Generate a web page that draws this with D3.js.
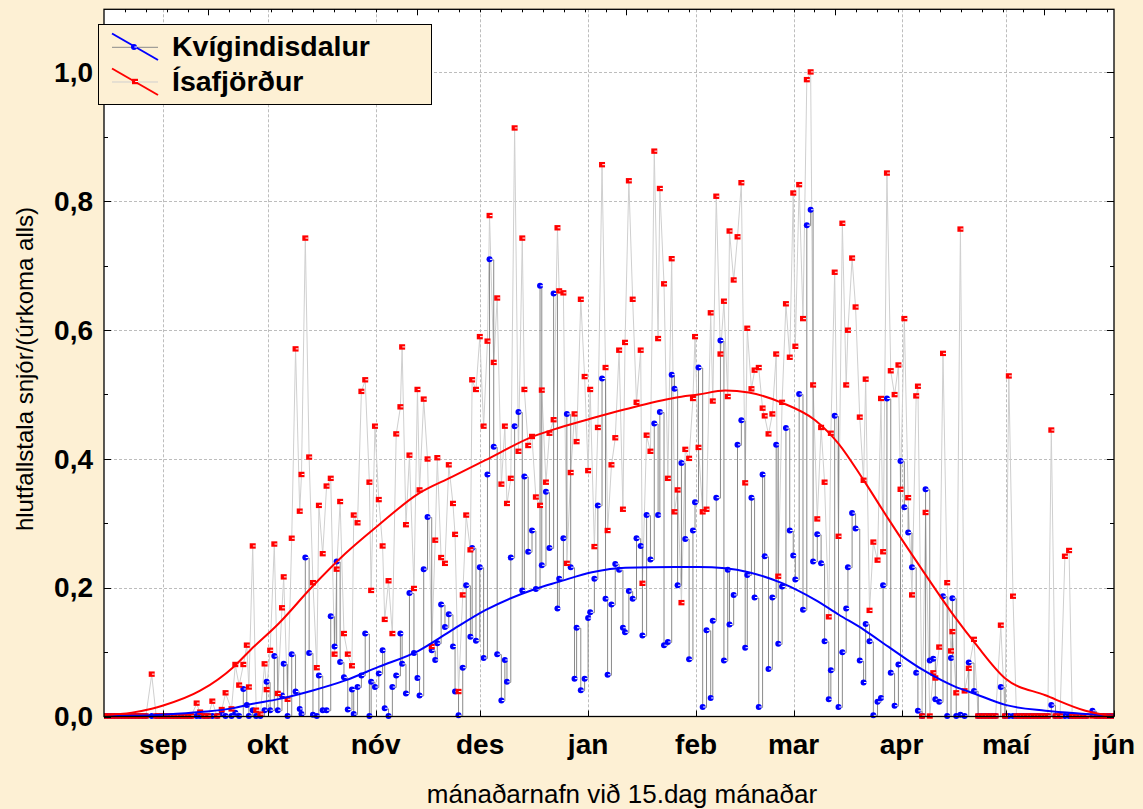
<!DOCTYPE html>
<html>
<head>
<meta charset="utf-8">
<script src="https://cdn.jsdelivr.net/npm/d3@7"></script>
<style>
  html, body { margin: 0; padding: 0; background: #FDF0D4; }
  svg { display: block; }
  text { font-family: "Liberation Sans", Arial, sans-serif; }
</style>
</head>
<body>
<svg id="chart" width="1143" height="809"></svg>
<script>
// ---------------- DATA ----------------
// day = days after 1 September
const monthLabels = ["sep", "okt", "nóv", "des", "jan", "feb", "mar", "apr", "maí", "jún"];
const monthDays   = [14, 44, 75, 105, 136, 167, 195, 226, 256, 287];
const yTickValues = [0, 0.2, 0.4, 0.6, 0.8, 1.0];
const yTickLabels = ["0,0", "0,2", "0,4", "0,6", "0,8", "1,0"];
const seriesNames = ["Kvígindisdalur", "Ísafjörður"];

const days = [
  -3,-2,-1,0,1,2,3,4,5,6,7,8,9,10.7,12,13,14,15,16,17,18,19,20,21,22,
  23.6,24.6,25.8,26.9,28.1,29.5,30.8,31.9,33.6,34.7,35.8,37.0,38.0,38.6,
  39.7,40.7,41.9,43.1,43.7,44.7,45.9,46.9,48.1,48.6,49.7,50.9,52.0,53.2,53.7,54.8,55.9,57.0,58.1,58.7,
  59.8,60.9,62.1,63.2,63.8,64.8,65.9,67.0,68.2,68.7,69.8,70.9,72.0,73.2,73.7,74.8,75.9,77.0,77.6,78.7,79.8,
  80.9,82.1,82.6,83.7,84.7,86.0,87.0,87.6,88.8,89.9,91.1,92.1,92.7,93.8,94.9,96.0,97.2,97.8,98.8,100.0,
  101.0,102.2,102.7,103.8,104.9,106.0,107.1,107.7,108.9,109.9,111.1,112.1,112.7,113.8,114.9,116.0,117.1,117.7,118.8,119.9,121.0,
  122.2,122.7,123.9,124.9,126.1,127.2,127.7,128.9,129.9,131.0,132.1,132.7,133.9,135.0,136.0,136.6,137.8,138.8,140.0,141.0,
  141.6,142.7,143.8,144.9,146.0,146.6,147.7,148.8,149.9,151.1,151.6,152.8,153.9,155.0,156.1,156.6,157.8,158.9,160.0,160.8,
  161.7,162.8,163.9,165.0,166.1,166.7,167.7,168.9,170.0,171.2,171.8,172.8,174.0,175.0,176.1,176.6,177.8,178.9,180.0,181.1,
  181.7,182.9,183.8,185.0,186.1,186.7,187.8,188.9,190.0,190.6,191.7,192.8,193.9,194.9,195.5,196.6,197.7,198.8,199.9,200.6,
  201.8,202.9,203.9,205.1,205.7,206.8,207.9,209.0,210.1,210.6,211.8,212.8,214.0,215.1,215.7,216.8,217.9,219.1,220.1,220.7,
  221.8,222.9,224.0,225.1,225.7,226.8,227.9,229.0,230.2,230.7,231.9,232.9,234.1,235.1,235.7,236.8,237.9,239.1,240.2,240.6,
  241.7,242.9,244.1,245.3,246.8,248,249,250,251,252,253,254.5,255.7,256.8,258.0,
  259,260,261,262,263,264,265,266,267,268,269.0,270.2,271.5,272.9,274.1,275,276,277,278,279,280.8,282,283,284,285,286,287
];

const kvigindisdalur = [
  0,0,0,0,0,0,0,0,0,0,0,0,0,0,0,0,0,0,0,0,0,0,0,0,0,
  0,0,0,0,0,0,0.003,0,0,0.005,0,0.042,0.017,0,
  0.009,0,0,0.009,0.053,0.009,0.093,0.009,0.032,0.081,0,0.096,0.038,0.011,0.003,0.246,0.098,0.002,0,0.063,
  0.009,0.009,0.155,0.108,0.240,0.084,0.060,0.010,0.041,0.003,0.045,0.063,0.128,0,0.053,0.045,0.066,0.102,0.012,0,0.045,
  0.063,0.128,0.081,0.035,0.191,0.098,0.059,0.032,0.228,0.309,0.102,0.087,0.113,0.173,0.138,0.158,0.108,0.038,0.001,0.075,
  0.203,0.123,0.261,0.117,0.231,0.090,0.375,0.709,0.418,0.096,0.024,0.087,0.053,0.246,0.450,0.472,0.195,0.372,0.255,0.288,0.197,
  0.668,0.234,0.348,0.261,0.656,0.167,0.213,0.276,0.469,0.231,0.058,0.137,0.040,0.058,0.152,0.161,0.213,0.327,0.524,0.182,
  0.064,0.173,0.236,0.227,0.137,0.130,0.194,0.182,0.276,0.264,0.125,0.312,0.243,0.454,0.312,0.472,0.110,0.115,0.530,0.508,
  0.203,0.393,0.275,0.088,0.288,0.332,0.541,0.014,0.133,0.028,0.148,0.339,0.583,0.086,0.227,0.142,0.188,0.421,0.459,0.106,
  0.219,0.339,0.184,0.014,0.375,0.248,0.073,0.184,0.421,0.112,0.201,0.447,0.288,0.249,0.212,0.500,0.165,0.762,0.786,0.240,
  0.282,0.237,0.116,0.026,0.071,0.466,0.014,0.099,0.167,0.231,0.315,0.291,0.086,0.052,0.143,0.116,0.001,0.022,0.028,0.203,
  0.493,0.067,0.016,0.080,0.396,0.324,0.285,0.231,0.067,0.008,0,0.352,0.086,0.089,0.026,0.022,0.186,0,0.090,0.183,
  0,0.002,0,0.083,0.039,0,0,0,0,0,0,0.045,0,0,0,
  0,0,0,0,0,0,0,0,0,0,0.017,0,0,0,0,0,0,0,0,0,0.008,0,0,0,0,0,0
];

const isafjordur = [
  0,0,0,0,0,0,0,0,0,0,0,0,0,0.065,0,0,0,0,0,0,0,0,0,0,0,
  0.020,0.006,0,0,0.023,0,0.010,0.036,0.011,0.080,0.048,0.080,0.110,0.045,
  0.264,0.009,0.003,0.081,0.041,0.102,0.267,0.035,0.168,0.216,0.026,0.276,0.570,0.318,0.375,0.742,0.402,0.207,0.075,0.327,
  0.252,0.357,0.369,0.096,0.228,0.333,0.128,0.096,0.078,0.312,0.300,0.504,0.522,0.363,0.195,0.450,0.336,0.264,0.150,0.210,0.128,
  0.438,0.480,0.573,0.297,0.405,0.198,0.507,0.351,0.492,0.399,0.108,0.273,0.401,0.246,0.237,0.390,0.330,0.282,0.038,0.188,
  0.312,0.258,0.522,0.507,0.589,0.450,0.582,0.777,0.549,0.649,0.360,0.450,0.330,0.369,0.913,0.411,0.742,0.507,0.420,0.434,0.340,
  0.327,0.506,0.363,0.439,0.460,0.758,0.660,0.657,0.237,0.378,0.469,0.426,0.647,0.527,0.381,0.507,0.263,0.448,0.856,0.541,
  0.288,0.390,0.432,0.568,0.321,0.580,0.831,0.647,0.487,0.568,0.206,0.436,0.411,0.877,0.586,0.819,0.671,0.369,0.710,0.317,
  0.351,0.176,0.414,0.400,0.493,0.589,0.417,0.317,0.321,0.626,0.489,0.807,0.562,0.644,0.496,0.753,0.677,0.744,0.828,0.362,
  0.602,0.508,0.537,0.541,0.478,0.466,0.438,0.469,0.562,0.217,0.487,0.640,0.557,0.812,0.574,0.825,0.617,0.988,1.000,0.514,
  0.306,0.448,0.363,0.154,0.439,0.689,0.279,0.765,0.514,0.599,0.711,0.635,0.464,0.366,0.523,0.164,0.270,0.242,0.493,0.255,
  0.843,0.536,0.499,0.545,0.352,0.617,0.339,0.188,0.497,0.512,0,0.316,0,0.067,0.059,0.107,0.563,0.207,0.101,0.131,
  0.036,0.756,0.039,0.074,0.119,0,0,0,0,0,0,0.141,0,0.528,0.186,
  0,0,0,0,0,0,0,0,0,0,0.444,0,0,0.248,0.257,0,0,0,0,0,0,0,0,0,0,0,0
];

// smoothed fits
const fitDays = [-3,5,10.7,14,24.6,34.2,39,47.1,56.7,66.3,75.8,87.3,96.9,106.5,120.8,127.5,137.1,146.7,161,167.7,
  175.4,182.1,191.7,201.2,208,215.1,222.3,231.9,241.5,247.2,255.8,267.3,278.8,287];
const kvigFit = [0.0005,0.001,0.002,0.003,0.007,0.013,0.019,0.027,0.040,0.056,0.077,0.102,0.134,0.165,0.198,0.209,0.224,0.231,0.232,0.232,
  0.230,0.224,0.207,0.181,0.158,0.135,0.108,0.073,0.046,0.035,0.018,0.009,0.004,0.001];
const isaFit = [0.002,0.006,0.012,0.017,0.040,0.077,0.103,0.144,0.201,0.253,0.297,0.346,0.372,0.398,0.436,0.448,0.463,0.477,0.495,0.500,
  0.506,0.503,0.487,0.460,0.423,0.367,0.306,0.228,0.153,0.113,0.059,0.033,0.009,0.0];

// ---------------- CHART ----------------
const svg = d3.select("#chart");
const L = 104, R = 1114, T = 9.3, B = 716.5;
const x = d3.scaleLinear().domain([-3, 287]).range([L, R]);
const y = d3.scaleLinear().domain([0, 1.098]).range([B, T]);

const BG = "#FDF0D4";
svg.append("rect").attr("width", 1143).attr("height", 809).attr("fill", BG);
svg.append("rect").attr("x", L).attr("y", T).attr("width", R - L).attr("height", B - T).attr("fill", "#fff");

// grid
const grid = svg.append("g").attr("stroke", "#bdbdbd").attr("stroke-width", 1).attr("stroke-dasharray", "3,2");
yTickValues.filter(v => v > 0).forEach(v => {
  grid.append("line").attr("x1", L).attr("x2", R).attr("y1", Math.round(y(v)) + 0.5).attr("y2", Math.round(y(v)) + 0.5);
});
monthDays.filter(d => d < 287).forEach(d => {
  grid.append("line").attr("y1", T).attr("y2", B).attr("x1", Math.round(x(d)) + 0.5).attr("x2", Math.round(x(d)) + 0.5);
});

const n = Math.min(days.length, kvigindisdalur.length, isafjordur.length);
const pts = d3.range(n).map(i => ({ d: days[i], k: kvigindisdalur[i], s: isafjordur[i] }));

svg.append("clipPath").attr("id", "clip").append("rect")
  .attr("x", L).attr("y", T).attr("width", R - L).attr("height", B - T + 4);
const plot = svg.append("g").attr("clip-path", "url(#clip)");

// connector of Ísafjörður (light grey)
plot.append("path").datum(pts)
  .attr("fill", "none").attr("stroke", "#cfcfcf").attr("stroke-width", 1)
  .attr("d", d3.line().x(p => x(p.d)).y(p => y(p.s)));
// connector of Kvígindisdalur (grey step)
plot.append("path").datum(pts)
  .attr("fill", "none").attr("stroke", "#8a8a8a").attr("stroke-width", 1)
  .attr("d", d3.line().curve(d3.curveStepAfter).x(p => x(p.d)).y(p => y(p.k)));

function blueMarker(g, cx, cy) {
  g.append("circle").attr("cx", cx).attr("cy", cy).attr("r", 3).attr("fill", "#0000ff");
  g.append("rect").attr("x", cx + 0.4).attr("y", cy - 0.5).attr("width", 2.6).attr("height", 1).attr("fill", "#fff");
}
function redMarker(g, cx, cy) {
  g.append("rect").attr("x", cx - 3).attr("y", cy - 2.7).attr("width", 6).attr("height", 5.4).attr("fill", "#ff0000");
  g.append("rect").attr("x", cx + 0.2).attr("y", cy - 0.5).attr("width", 2.8).attr("height", 1).attr("fill", "#fff");
}
const bm = plot.append("g");
pts.forEach(p => blueMarker(bm, x(p.d), y(p.k) - 0.5));
const rm = plot.append("g");
pts.forEach(p => redMarker(rm, x(p.d), y(p.s) - 0.5));

// fits
const fit = fitDays.map((d, i) => ({ d, k: kvigFit[i], s: isaFit[i] }));
plot.append("path").datum(fit).attr("fill", "none").attr("stroke", "#0000ff").attr("stroke-width", 2)
  .attr("d", d3.line().curve(d3.curveMonotoneX).x(p => x(p.d)).y(p => y(p.k)));
plot.append("path").datum(fit).attr("fill", "none").attr("stroke", "#ff0000").attr("stroke-width", 2)
  .attr("d", d3.line().curve(d3.curveMonotoneX).x(p => x(p.d)).y(p => y(p.s)));

// frame
svg.append("rect").attr("x", L).attr("y", T).attr("width", R - L).attr("height", B - T)
  .attr("fill", "none").attr("stroke", "#000").attr("stroke-width", 1.3);

// ticks
const tk = svg.append("g").attr("stroke", "#000").attr("stroke-width", 1);
d3.range(0, 11).forEach(i => {
  const v = i / 10, yy = Math.round(y(v)) + 0.5, len = i % 2 === 0 ? 7 : 4;
  tk.append("line").attr("x1", L).attr("x2", L + len).attr("y1", yy).attr("y2", yy);
  tk.append("line").attr("x1", R).attr("x2", R - len).attr("y1", yy).attr("y2", yy);
});
monthDays.forEach(d => {
  const xx = Math.round(x(d)) + 0.5;
  tk.append("line").attr("x1", xx).attr("x2", xx).attr("y1", B).attr("y2", B - 6);
});
d3.range(3, 287, 6).forEach(d => {
  const xx = Math.round(x(d)) + 0.5, major = (267 - d) % 60 === 0;
  tk.append("line").attr("x1", xx).attr("x2", xx).attr("y1", T).attr("y2", T + (major ? 6 : 3));
});

// y tick labels
yTickValues.forEach((v, i) => {
  svg.append("text").attr("x", 93).attr("y", y(v)).attr("dy", "0.35em")
    .attr("text-anchor", "end").attr("font-size", 28).attr("font-weight", "bold").attr("fill", "#000")
    .text(yTickLabels[i]);
});
// x tick labels
monthDays.forEach((d, i) => {
  svg.append("text").attr("x", x(d)).attr("y", 754).attr("text-anchor", "middle")
    .attr("font-size", 28).attr("font-weight", "bold").attr("fill", "#000").text(monthLabels[i]);
});

// axis titles
svg.append("text").attr("x", 622).attr("y", 803).attr("text-anchor", "middle")
  .attr("font-size", 26).attr("fill", "#000").text("mánaðarnafn við 15.dag mánaðar");
svg.append("text").attr("transform", "translate(33,369) rotate(-90)").attr("text-anchor", "middle")
  .attr("font-size", 24).attr("fill", "#000").text("hlutfallstala snjór/(úrkoma alls)");

// legend
const lg = svg.append("g");
lg.append("rect").attr("x", 98.5).attr("y", 24.5).attr("width", 333).attr("height", 80)
  .attr("fill", BG).attr("stroke", "#000").attr("stroke-width", 1);
lg.append("line").attr("x1", 112).attr("x2", 158).attr("y1", 47.3).attr("y2", 47.3).attr("stroke", "#8a8a8a");
lg.append("line").attr("x1", 112).attr("x2", 158).attr("y1", 33.5).attr("y2", 60).attr("stroke", "#0000ff").attr("stroke-width", 2);
blueMarker(lg, 134, 47);
lg.append("line").attr("x1", 112).attr("x2", 158).attr("y1", 82).attr("y2", 82).attr("stroke", "#cfcfcf");
lg.append("line").attr("x1", 112).attr("x2", 158).attr("y1", 68.5).attr("y2", 95).attr("stroke", "#ff0000").attr("stroke-width", 2);
redMarker(lg, 135, 81.5);
lg.append("text").attr("x", 172).attr("y", 55.7).attr("font-size", 28.5).attr("font-weight", "bold").text(seriesNames[0]);
lg.append("text").attr("x", 172).attr("y", 90.7).attr("font-size", 28.5).attr("font-weight", "bold").text(seriesNames[1]);
</script>
</body>
</html>
